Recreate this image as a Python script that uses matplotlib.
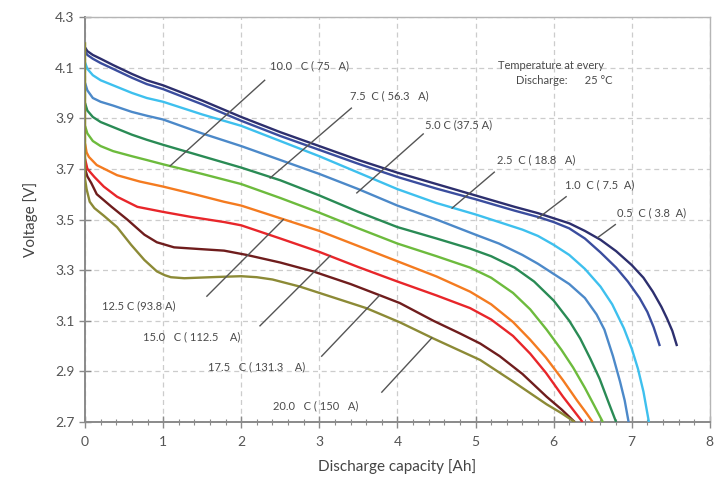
import matplotlib
matplotlib.use("Agg")
import matplotlib.pyplot as plt
from matplotlib.ticker import MultipleLocator

plt.rcParams['font.family'] = ['Lato', 'DejaVu Sans']

# ---- data ----
x_05 = [0, 0.03, 0.1, 0.2, 0.36, 0.6, 0.79, 1.0, 1.25, 1.5, 2.0, 2.5, 3.0, 3.5, 4.0, 4.5, 5.0, 5.5, 5.8, 6.0, 6.2, 6.4, 6.6, 6.8, 7.0, 7.15, 7.27, 7.38, 7.45, 7.52, 7.58]
v_05 = [4.18, 4.165, 4.15, 4.135, 4.11, 4.075, 4.05, 4.03, 4.0, 3.97, 3.905, 3.845, 3.79, 3.735, 3.685, 3.64, 3.595, 3.55, 3.525, 3.505, 3.485, 3.455, 3.42, 3.375, 3.32, 3.27, 3.215, 3.155, 3.11, 3.06, 3.0]

x_10 = [0, 0.03, 0.1, 0.2, 0.36, 0.6, 0.79, 1.0, 1.25, 1.5, 2.0, 2.5, 3.0, 3.5, 4.0, 4.5, 5.0, 5.5, 5.8, 6.0, 6.2, 6.4, 6.6, 6.8, 6.95, 7.1, 7.2, 7.28, 7.36]
v_10 = [4.165, 4.15, 4.135, 4.118, 4.095, 4.06, 4.035, 4.015, 3.985, 3.955, 3.89, 3.83, 3.775, 3.72, 3.668, 3.622, 3.58, 3.535, 3.51, 3.49, 3.465, 3.425, 3.37, 3.31, 3.255, 3.19, 3.135, 3.075, 3.0]

x_25 = [0, 0.03, 0.1, 0.2, 0.36, 0.6, 0.79, 1.0, 1.5, 2.0, 2.5, 3.0, 3.5, 4.0, 4.5, 5.0, 5.3, 5.6, 5.8, 6.0, 6.2, 6.4, 6.6, 6.75, 6.9, 7.0, 7.08, 7.15, 7.22]
v_25 = [4.12, 4.095, 4.07, 4.05, 4.03, 4.0, 3.98, 3.965, 3.915, 3.87, 3.81, 3.75, 3.685, 3.62, 3.565, 3.52, 3.49, 3.46, 3.435, 3.40, 3.36, 3.305, 3.235, 3.165, 3.07, 2.99, 2.91, 2.82, 2.70]

x_50 = [0, 0.03, 0.1, 0.2, 0.36, 0.6, 0.79, 1.0, 1.5, 2.0, 2.5, 3.0, 3.5, 4.0, 4.5, 5.0, 5.3, 5.6, 5.8, 6.0, 6.2, 6.4, 6.55, 6.65, 6.76, 6.85, 6.91, 6.96]
v_50 = [4.04, 4.01, 3.98, 3.965, 3.95, 3.925, 3.91, 3.895, 3.84, 3.79, 3.735, 3.68, 3.62, 3.555, 3.50, 3.44, 3.405, 3.36, 3.325, 3.285, 3.245, 3.19, 3.125, 3.065, 2.96, 2.86, 2.785, 2.70]

x_75 = [0, 0.03, 0.1, 0.2, 0.36, 0.6, 0.79, 1.0, 1.5, 2.0, 2.5, 3.0, 3.5, 4.0, 4.5, 4.93, 5.2, 5.5, 5.75, 6.0, 6.2, 6.34, 6.47, 6.59, 6.7, 6.8]
v_75 = [3.96, 3.93, 3.905, 3.885, 3.865, 3.835, 3.815, 3.795, 3.75, 3.705, 3.655, 3.595, 3.53, 3.47, 3.425, 3.385, 3.355, 3.31, 3.255, 3.18, 3.10, 3.03, 2.95, 2.87, 2.78, 2.70]

x_100 = [0, 0.03, 0.1, 0.2, 0.36, 0.6, 0.79, 1.0, 1.5, 2.0, 2.5, 3.0, 3.5, 4.0, 4.5, 4.93, 5.2, 5.48, 5.7, 5.91, 6.1, 6.25, 6.4, 6.52, 6.63]
v_100 = [3.87, 3.84, 3.81, 3.79, 3.77, 3.75, 3.735, 3.718, 3.68, 3.64, 3.585, 3.527, 3.465, 3.405, 3.355, 3.31, 3.27, 3.21, 3.145, 3.065, 2.985, 2.915, 2.835, 2.765, 2.70]

x_125 = [0, 0.02, 0.05, 0.15, 0.41, 0.7, 1.0, 1.4, 1.78, 2.0, 2.5, 3.0, 3.5, 4.0, 4.5, 4.93, 5.2, 5.48, 5.7, 5.9, 6.12, 6.3, 6.42, 6.5]
v_125 = [3.80, 3.765, 3.747, 3.715, 3.675, 3.65, 3.63, 3.60, 3.57, 3.555, 3.505, 3.455, 3.395, 3.335, 3.275, 3.215, 3.165, 3.095, 3.025, 2.955, 2.865, 2.785, 2.735, 2.70]

x_150 = [0, 0.03, 0.12, 0.24, 0.41, 0.67, 1.0, 1.36, 1.78, 2.0, 2.5, 3.0, 3.5, 4.0, 4.5, 4.93, 5.2, 5.48, 5.7, 5.9, 6.12, 6.27, 6.37]
v_150 = [3.74, 3.70, 3.668, 3.63, 3.59, 3.55, 3.53, 3.51, 3.49, 3.477, 3.425, 3.372, 3.312, 3.255, 3.20, 3.15, 3.105, 3.04, 2.97, 2.895, 2.80, 2.74, 2.70]

x_175 = [0, 0.03, 0.08, 0.15, 0.34, 0.54, 0.76, 0.92, 1.14, 1.48, 1.78, 2.07, 2.5, 2.92, 3.4, 3.78, 4.03, 4.46, 4.8, 5.06, 5.31, 5.6, 5.91, 6.1, 6.27]
v_175 = [3.70, 3.67, 3.644, 3.60, 3.55, 3.50, 3.44, 3.41, 3.39, 3.383, 3.377, 3.36, 3.33, 3.295, 3.245, 3.20, 3.17, 3.10, 3.05, 3.01, 2.96, 2.89, 2.80, 2.75, 2.70]

x_200 = [0, 0, 0.02, 0.06, 0.12, 0.24, 0.41, 0.59, 0.76, 0.92, 1.02, 1.1, 1.27, 1.69, 2.0, 2.2, 2.4, 2.75, 3.1, 3.6, 4.03, 4.46, 5.06, 5.48, 5.91, 6.1, 6.27]
v_200 = [4.20, 3.66, 3.62, 3.57, 3.545, 3.515, 3.47, 3.40, 3.34, 3.295, 3.28, 3.272, 3.268, 3.273, 3.276, 3.272, 3.263, 3.235, 3.20, 3.15, 3.094, 3.03, 2.945, 2.86, 2.77, 2.735, 2.70]

series_x = [x_05, x_10, x_25, x_50, x_75, x_100, x_125, x_150, x_175, x_200]
series_v = [v_05, v_10, v_25, v_50, v_75, v_100, v_125, v_150, v_175, v_200]
colors = ['#2d2f6e', '#3a4d9e', '#3ec0ee', '#4c89c9', '#2a8b55', '#6dbb3d',
          '#f47b20', '#e8262a', '#6f1d1d', '#8c8a36']

labels = ['0.5  C ( 3.8  A)', '1.0  C ( 7.5  A)', '2.5  C ( 18.8   A)',
          '5.0 C (37.5 A)', '7.5  C ( 56.3   A)', '10.0   C ( 75   A)',
          '12.5 C (93.8 A)', '15.0   C ( 112.5    A)', '17.5   C ( 131.3    A)',
          '20.0   C ( 150   A)']

x_ticks = [0, 1, 2, 3, 4, 5, 6, 7, 8]
y_ticks = [2.7, 2.9, 3.1, 3.3, 3.5, 3.7, 3.9, 4.1, 4.3]

# label placement: (text position, pointer start near label, pointer end on curve)
label_layout = [
    ((6.81, 3.525), (6.79, 3.48), (6.57, 3.43)),
    ((6.15, 3.636), (6.16, 3.59), (5.80, 3.505)),
    ((5.27, 3.735), (5.24, 3.687), (4.70, 3.545)),
    ((4.35, 3.873), (4.33, 3.838), (3.48, 3.605)),
    ((3.39, 3.99), (3.41, 3.94), (2.37, 3.664)),
    ((2.37, 4.106), (2.30, 4.05), (1.09, 3.712)),
    ((0.22, 3.16), (1.56, 3.197), (2.54, 3.500)),
    ((0.74, 3.035), (2.24, 3.08), (3.14, 3.357)),
    ((1.57, 2.917), (3.03, 2.96), (3.77, 3.20)),
    ((2.41, 2.766), (3.80, 2.818), (4.44, 3.032)),
]

fig = plt.figure(figsize=(7.17, 4.91), dpi=100)
ax = fig.add_axes([0.1186, 0.1405, 0.8714, 0.8249])

for xs, vs, c in zip(series_x, series_v, colors):
    ax.plot(xs, vs, color=c, lw=1.7, solid_capstyle='butt', solid_joinstyle='round', zorder=3)

txt_color = '#4a4a4a'
for lab, (tpos, p0, p1) in zip(labels, label_layout):
    ax.plot([p0[0], p1[0]], [p0[1], p1[1]], color='#555555', lw=1.0, zorder=4)
    ax.text(tpos[0], tpos[1], lab, fontsize=8, color=txt_color, ha='left', va='center', zorder=5)

ax.text(5.29, 4.11, 'Temperature at every', fontsize=8, color=txt_color, ha='left', va='center')
ax.text(5.52, 4.05, 'Discharge:      25 °C', fontsize=8, color=txt_color, ha='left', va='center')

ax.set_xlim(0, 8)
ax.set_ylim(2.7, 4.3)
ax.set_xticks(x_ticks)
ax.set_yticks(y_ticks)
ax.set_yticklabels([f'{t:.1f}' for t in y_ticks])
ax.xaxis.set_minor_locator(MultipleLocator(0.2))

ax.grid(True, which='major', linestyle=(0, (4, 3)), color='#cccccc', lw=0.9, zorder=0)
for side in ['top', 'right']:
    ax.spines[side].set_color('#b5b5b5')
    ax.spines[side].set_linewidth(1.0)
for side in ['left', 'bottom']:
    ax.spines[side].set_color('#8a8a8a')
    ax.spines[side].set_linewidth(1.4)

ax.tick_params(axis='both', which='major', direction='inout', length=8, width=1.0,
               color='#8a8a8a', labelcolor='#555555', labelsize=10)
ax.tick_params(axis='x', which='minor', direction='inout', length=4, width=0.8, color='#8a8a8a')
ax.tick_params(axis='x', which='major', pad=6)

ax.set_xlabel('Discharge capacity [Ah]', fontsize=11, color='#444444', labelpad=8)
ax.set_ylabel('Voltage [V]', fontsize=11, color='#444444', labelpad=12)

fig.savefig('out.png', dpi=100)
